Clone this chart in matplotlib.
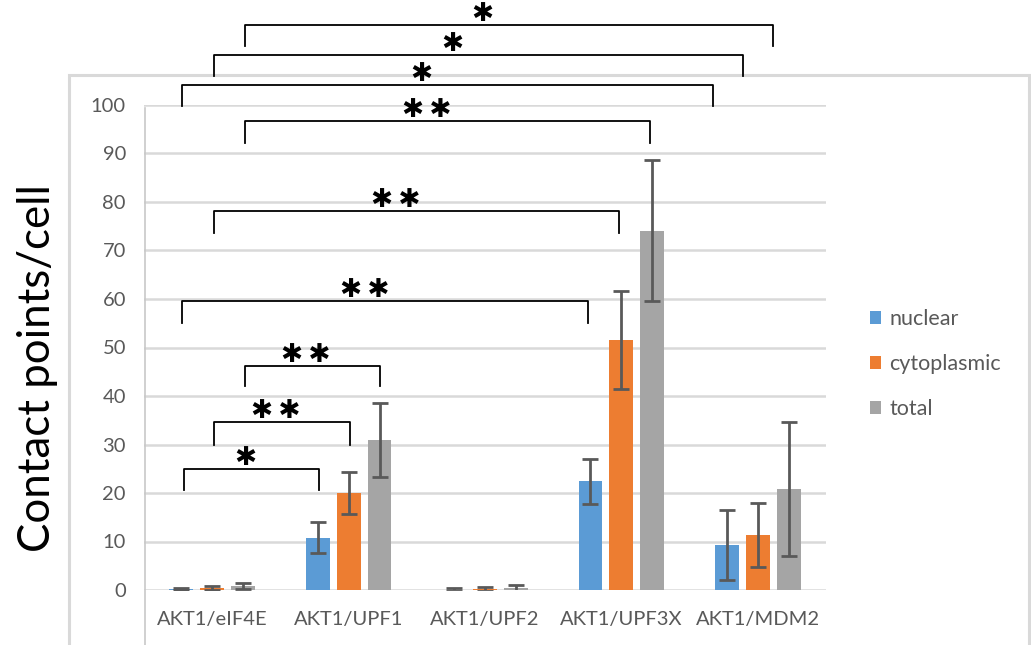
import matplotlib
matplotlib.use("Agg")
import matplotlib.pyplot as plt
from matplotlib.patches import Rectangle
from matplotlib.lines import Line2D
import numpy as np

plt.rcParams['font.family'] = ['Lato', 'DejaVu Sans']

categories = ["AKT1/eIF4E", "AKT1/UPF1", "AKT1/UPF2", "AKT1/UPF3X", "AKT1/MDM2"]
series_names = ["nuclear", "cytoplasmic", "total"]
nuclear = [0.2, 10.8, 0.1, 22.4, 9.3]
nuclear_err = [0.3, 3.2, 0.25, 4.7, 7.2]
cytoplasmic = [0.4, 20.0, 0.2, 51.6, 11.4]
cytoplasmic_err = [0.35, 4.4, 0.35, 10.1, 6.6]
total = [0.9, 31.0, 0.35, 74.1, 20.9]
total_err = [0.6, 7.6, 0.75, 14.6, 13.8]
yticks = [0, 10, 20, 30, 40, 50, 60, 70, 80, 90, 100]

# significance labels of the brackets, bottom to top
sig_labels = ["*", "**", "**", "**", "**", "**", "*", "*", "*"]

colors = ["#5B9BD5", "#ED7D31", "#A5A5A5"]
grid_c = "#D9D9D9"
txt_c = "#595959"

W, H = 1031, 645
fig = plt.figure(figsize=(W / 100, H / 100), dpi=100)
ax = fig.add_axes([144 / W, 55 / H, (826 - 144) / W, (590 - 105) / H])

x = np.arange(len(categories))
bw = 0.175
off = 0.227
vals = [nuclear, cytoplasmic, total]
errs = [nuclear_err, cytoplasmic_err, total_err]
for i, (v, e) in enumerate(zip(vals, errs)):
    ax.bar(x + (i - 1) * off, v, bw, color=colors[i], label=series_names[i], zorder=3)
    ax.errorbar(x + (i - 1) * off, v, yerr=e, fmt='none', ecolor="#595959",
                elinewidth=2, capsize=6, capthick=2, zorder=4)

ax.set_xlim(-0.5, 4.5)
ax.set_ylim(0, 100)
ax.set_yticks(yticks)
ax.set_xticks(x)
ax.set_xticklabels(categories)
ax.tick_params(axis='both', length=0, labelsize=14.5, colors=txt_c)
ax.tick_params(axis='y', pad=13)
ax.tick_params(axis='x', pad=15)
ax.grid(axis='y', color=grid_c, lw=1.8, zorder=0)
for s in ax.spines.values():
    s.set_visible(False)
ax.set_axisbelow(True)

# brackets (x in category units, leg bottom, top)
brackets = [
    (-0.205, 0.784, 20.6, 24.9),
    (0.015, 1.01, 29.9, 34.6),
    (0.24, 1.23, 42.1, 46.2),
    (-0.22, 2.755, 55.1, 59.6),
    (0.015, 2.98, 73.6, 78.1),
    (0.24, 3.21, 92.2, 96.7),
    (-0.22, 3.67, 99.8, 104.1),
    (0.015, 3.89, 106.0, 110.3),
    (0.24, 4.11, 112.2, 116.5),
]
for (x1, x2, yb, yt), lab in zip(brackets, sig_labels):
    ax.plot([x1, x1, x2, x2], [yb, yt, yt, yb], color="black", lw=1.3,
            clip_on=False, zorder=5, solid_joinstyle='round')
    ax.text(x1 + 0.45 * (x2 - x1), yt + 2.3, "\u2009".join("\u2731" * len(lab)),
            ha='center', va='center', fontsize=19, color="black",
            family=['DejaVu Sans'], clip_on=False, zorder=6)

# legend
leg = ax.legend(loc='center left', bbox_to_anchor=(1.064, 0.466), frameon=False,
                fontsize=15.5, labelspacing=1.15, handlelength=0.55, handleheight=0.55,
                handletextpad=0.35, borderpad=0, borderaxespad=0, labelcolor=txt_c)

# y label
fig.text(38 / W, 1 - 368 / H, "Contact points/cell", rotation=90, ha='center',
         va='center', fontsize=31.5, color="black")

# outer frame
fig.add_artist(Rectangle((69 / W, -0.05), (1029 - 69) / W, 1 - 75 / H + 0.05,
                         transform=fig.transFigure, fill=False, ec=grid_c, lw=2.2,
                         zorder=0))
fig.add_artist(Line2D([145 / W, 145 / W], [0, 1 - 108 / H], transform=fig.transFigure,
                      color="#C8C8C8", lw=1.2))

fig.savefig("out.png", dpi=100)
